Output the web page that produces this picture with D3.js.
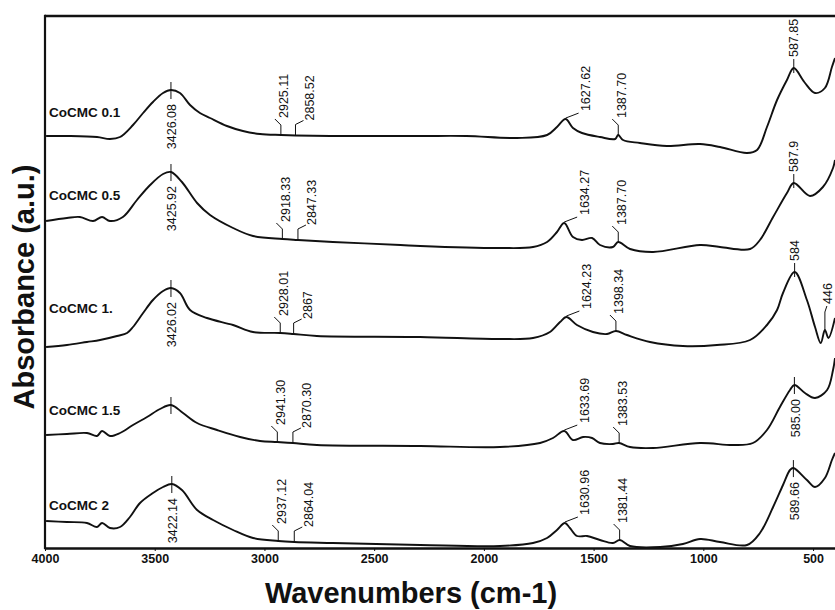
<!DOCTYPE html>
<html>
<head>
<meta charset="utf-8">
<title>FTIR spectra of CoCMC samples</title>
<script src="https://cdn.jsdelivr.net/npm/d3@7"></script>
<style>
  body { margin: 0; background: #fff; }
  svg { display: block; font-family: Arial, "Liberation Sans", sans-serif; }
</style>
</head>
<body>
<svg width="835" height="610"></svg>
<script>
const seriesNames = ["CoCMC 0.1", "CoCMC 0.5", "CoCMC 1.", "CoCMC 1.5", "CoCMC 2"];
const xTicks = [4000, 3500, 3000, 2500, 2000, 1500, 1000, 500];

// [wavenumber (cm-1), absorbance (a.u., stacked)]
const coCMC01 = [[3995,4.12],[3900,4.12],[3763,4.11],[3704,4.09],[3658,4.11],[3599,4.23],[3553,4.35],[3508,4.46],[3462,4.55],[3426,4.58],[3385,4.55],[3339,4.43],[3294,4.35],[3248,4.30],[3171,4.22],[3098,4.17],[3020,4.14],[2925,4.13],[2858,4.125],[2700,4.12],[2290,4.12],[2080,4.12],[1850,4.10],[1712,4.13],[1667,4.21],[1628,4.29],[1594,4.20],[1553,4.15],[1471,4.11],[1402,4.09],[1388,4.13],[1366,4.08],[1289,4.05],[1166,4.02],[1015,4.04],[924,4.01],[801,3.95],[755,3.98],[710,4.21],[664,4.48],[619,4.68],[588,4.80],[540,4.66],[491,4.55],[446,4.60],[414,4.81],[400,4.90]];
const coCMC05 = [[3995,3.27],[3900,3.30],[3841,3.31],[3781,3.27],[3740,3.31],[3704,3.27],[3645,3.31],[3581,3.48],[3521,3.63],[3462,3.74],[3426,3.76],[3376,3.66],[3307,3.45],[3248,3.33],[3143,3.20],[3052,3.12],[2918,3.09],[2847,3.08],[2688,3.06],[2380,3.03],[2290,3.02],[1927,3.00],[1776,3.01],[1712,3.06],[1667,3.16],[1634,3.25],[1594,3.11],[1553,3.08],[1507,3.10],[1471,3.03],[1412,3.01],[1388,3.06],[1334,2.99],[1229,2.96],[1015,3.03],[924,3.01],[787,2.99],[742,3.08],[682,3.31],[619,3.55],[588,3.65],[514,3.52],[455,3.61],[409,3.80],[400,3.88]];
const coCMC1 = [[3995,2.01],[3900,2.03],[3809,2.06],[3749,2.08],[3672,2.12],[3626,2.15],[3599,2.21],[3553,2.35],[3508,2.48],[3462,2.57],[3426,2.60],[3385,2.55],[3339,2.38],[3262,2.30],[3143,2.23],[3052,2.16],[2928,2.15],[2867,2.14],[2761,2.12],[2290,2.11],[1927,2.09],[1776,2.10],[1699,2.16],[1653,2.26],[1624,2.31],[1576,2.23],[1503,2.16],[1439,2.14],[1398,2.17],[1348,2.13],[1243,2.06],[1093,2.02],[938,2.03],[787,2.08],[710,2.23],[664,2.38],[637,2.55],[584,2.76],[528,2.48],[491,2.21],[465,2.05],[446,2.18],[430,2.10],[400,2.30]];
const coCMC15 = [[3995,1.13],[3900,1.14],[3809,1.15],[3763,1.12],[3740,1.17],[3704,1.12],[3658,1.15],[3599,1.23],[3535,1.31],[3476,1.39],[3426,1.43],[3371,1.35],[3307,1.25],[3216,1.18],[3111,1.11],[3020,1.07],[2941,1.06],[2870,1.05],[2761,1.03],[2290,1.02],[1927,1.01],[1744,1.05],[1685,1.10],[1634,1.17],[1594,1.08],[1548,1.11],[1507,1.10],[1471,1.05],[1412,1.04],[1384,1.05],[1334,1.01],[1229,1.00],[1015,1.05],[865,1.03],[774,1.05],[710,1.18],[651,1.41],[605,1.58],[585,1.63],[537,1.55],[491,1.50],[436,1.58],[409,1.78],[400,1.90]];
const coCMC2 = [[3995,0.27],[3900,0.26],[3809,0.25],[3763,0.21],[3740,0.25],[3704,0.20],[3658,0.21],[3613,0.31],[3567,0.45],[3508,0.55],[3462,0.61],[3422,0.64],[3376,0.58],[3307,0.38],[3234,0.28],[3143,0.18],[3052,0.10],[2937,0.07],[2864,0.06],[2688,0.05],[2290,0.03],[1927,0.02],[1776,0.05],[1712,0.10],[1667,0.18],[1631,0.25],[1608,0.20],[1576,0.12],[1530,0.12],[1471,0.08],[1412,0.05],[1381,0.08],[1334,0.02],[1197,0.01],[1093,0.04],[1015,0.09],[924,0.06],[801,0.03],[742,0.15],[682,0.41],[637,0.63],[605,0.78],[590,0.80],[528,0.68],[491,0.61],[446,0.70],[414,0.88],[400,0.95]];
const spectra = [coCMC01, coCMC05, coCMC1, coCMC15, coCMC2];

// peak labels: [series, wavenumber, text, marker style]
const peaks = [
  [0, 3426.08, "3426.08", "below"], [0, 2925.11, "2925.11", "left"], [0, 2858.52, "2858.52", "right"],
  [0, 1627.62, "1627.62", "diag"], [0, 1387.70, "1387.70", "left"], [0, 587.85, "587.85", "above"],
  [1, 3425.92, "3425.92", "below"], [1, 2918.33, "2918.33", "left"], [1, 2847.33, "2847.33", "right"],
  [1, 1634.27, "1634.27", "diag"], [1, 1387.70, "1387.70", "left"], [1, 587.9, "587.9", "above"],
  [2, 3426.02, "3426.02", "below"], [2, 2928.01, "2928.01", "left"], [2, 2867, "2867", "right"],
  [2, 1624.23, "1624.23", "diag"], [2, 1398.34, "1398.34", "left"], [2, 584, "584", "above"],
  [2, 446, "446", "tall"],
  [3, 3426, "", "below"], [3, 2941.30, "2941.30", "left"], [3, 2870.30, "2870.30", "right"],
  [3, 1633.69, "1633.69", "diag"], [3, 1383.53, "1383.53", "left"], [3, 585.00, "585.00", "below"],
  [4, 3422.14, "3422.14", "below"], [4, 2937.12, "2937.12", "left"], [4, 2864.04, "2864.04", "right"],
  [4, 1630.96, "1630.96", "diag"], [4, 1381.44, "1381.44", "left"], [4, 589.66, "589.66", "below"]
];

// where the sample names sit (a.u.)
const nameLevels = [4.31, 3.48, 2.35, 1.33, 0.38];

const svg = d3.select("svg");
const plotL = 45, plotT = 16, plotR = 835, plotB = 548;

const x = d3.scaleLinear().domain([4000, 400]).range([plotL, plotR]);
const y = d3.scaleLinear().domain([0, 5.32]).range([plotB, plotT]);

const line = d3.line()
  .x(d => x(d[0]))
  .y(d => y(d[1]))
  .curve(d3.curveCatmullRom.alpha(0.5));

// spectra
svg.append("g")
  .selectAll("path")
  .data(spectra)
  .enter()
  .append("path")
  .attr("d", line)
  .attr("fill", "none")
  .attr("stroke", "#111")
  .attr("stroke-width", 1.9)
  .attr("stroke-linejoin", "round");

// absorbance of a spectrum at a wavenumber
function valueAt(s, wn) {
  const d = spectra[s];
  for (let i = 0; i < d.length - 1; i++) {
    const a = d[i], b = d[i + 1];
    if (wn <= a[0] && wn >= b[0]) {
      const t = (a[0] - wn) / (a[0] - b[0]);
      return a[1] + t * (b[1] - a[1]);
    }
  }
  return d[d.length - 1][1];
}

// peak markers
const marks = svg.append("g")
  .attr("stroke", "#111")
  .attr("stroke-width", 1);

function vtext(tx, ty, txt, anchor) {
  svg.append("text")
    .attr("transform", `translate(${tx},${ty}) rotate(-90)`)
    .attr("text-anchor", anchor)
    .attr("dy", "0.36em")
    .attr("font-size", 12.5)
    .attr("fill", "#111")
    .text(txt);
}

peaks.forEach(p => {
  const px = x(p[1]), py = y(valueAt(p[0], p[1]));
  const kind = p[3];
  if (kind === "below") {
    marks.append("line").attr("x1", px).attr("x2", px).attr("y1", py - 8).attr("y2", py + 9);
    if (p[2]) vtext(px + 1, py + 14, p[2], "end");
  } else if (kind === "above") {
    marks.append("line").attr("x1", px).attr("x2", px).attr("y1", py + 5).attr("y2", py - 9);
    vtext(px, py - 11, p[2], "start");
  } else if (kind === "left") {
    marks.append("polyline").attr("fill", "none")
      .attr("points", `${px},${py} ${px},${py - 10} ${px - 6},${py - 16}`);
    vtext(px + 3, py - 17, p[2], "start");
  } else if (kind === "right") {
    marks.append("polyline").attr("fill", "none")
      .attr("points", `${px},${py} ${px},${py - 11} ${px + 8},${py - 15}`);
    vtext(px + 14, py - 15, p[2], "start");
  } else if (kind === "diag") {
    marks.append("line").attr("x1", px).attr("x2", px + 13).attr("y1", py - 1).attr("y2", py - 6);
    vtext(px + 20, py - 8, p[2], "start");
  } else if (kind === "tall") {
    marks.append("polyline").attr("fill", "none")
      .attr("points", `${px},${py} ${px},${py - 18} ${px + 2},${py - 24}`);
    vtext(px + 3, py - 26, p[2], "start");
  }
});

// sample names
svg.append("g")
  .selectAll("text")
  .data(seriesNames)
  .enter()
  .append("text")
  .attr("x", plotL + 4)
  .attr("y", (d, i) => y(nameLevels[i]))
  .attr("font-size", 13.5)
  .attr("font-weight", "bold")
  .attr("fill", "#111")
  .text(d => d);

// axes and frame
const xAxis = svg.append("g")
  .attr("transform", `translate(0,${plotB})`)
  .call(d3.axisBottom(x).tickValues(xTicks).tickFormat(d3.format("d"))
    .tickSize(3).tickSizeOuter(0).tickPadding(3));
xAxis.select(".domain").attr("stroke", "#111").attr("stroke-width", 2.6);
xAxis.selectAll("text")
  .attr("font-family", "Arial, 'Liberation Sans', sans-serif")
  .attr("font-size", 12.5)
  .attr("font-weight", "bold")
  .attr("fill", "#111");
xAxis.selectAll(".tick line").attr("stroke", "#111");

svg.append("line")
  .attr("x1", plotL).attr("x2", plotR).attr("y1", plotT).attr("y2", plotT)
  .attr("stroke", "#111").attr("stroke-width", 2.6);
svg.append("line")
  .attr("x1", plotL).attr("x2", plotL).attr("y1", plotT - 1.3).attr("y2", plotB + 1.3)
  .attr("stroke", "#111").attr("stroke-width", 2.2);

// axis titles
svg.append("text")
  .attr("x", 411)
  .attr("y", 603)
  .attr("text-anchor", "middle")
  .attr("font-size", 29)
  .attr("font-weight", "bold")
  .attr("fill", "#111")
  .text("Wavenumbers (cm-1)");

svg.append("text")
  .attr("transform", "translate(34,287) rotate(-90)")
  .attr("text-anchor", "middle")
  .attr("font-size", 29)
  .attr("font-weight", "bold")
  .attr("fill", "#111")
  .text("Absorbance (a.u.)");
</script>
</body>
</html>
